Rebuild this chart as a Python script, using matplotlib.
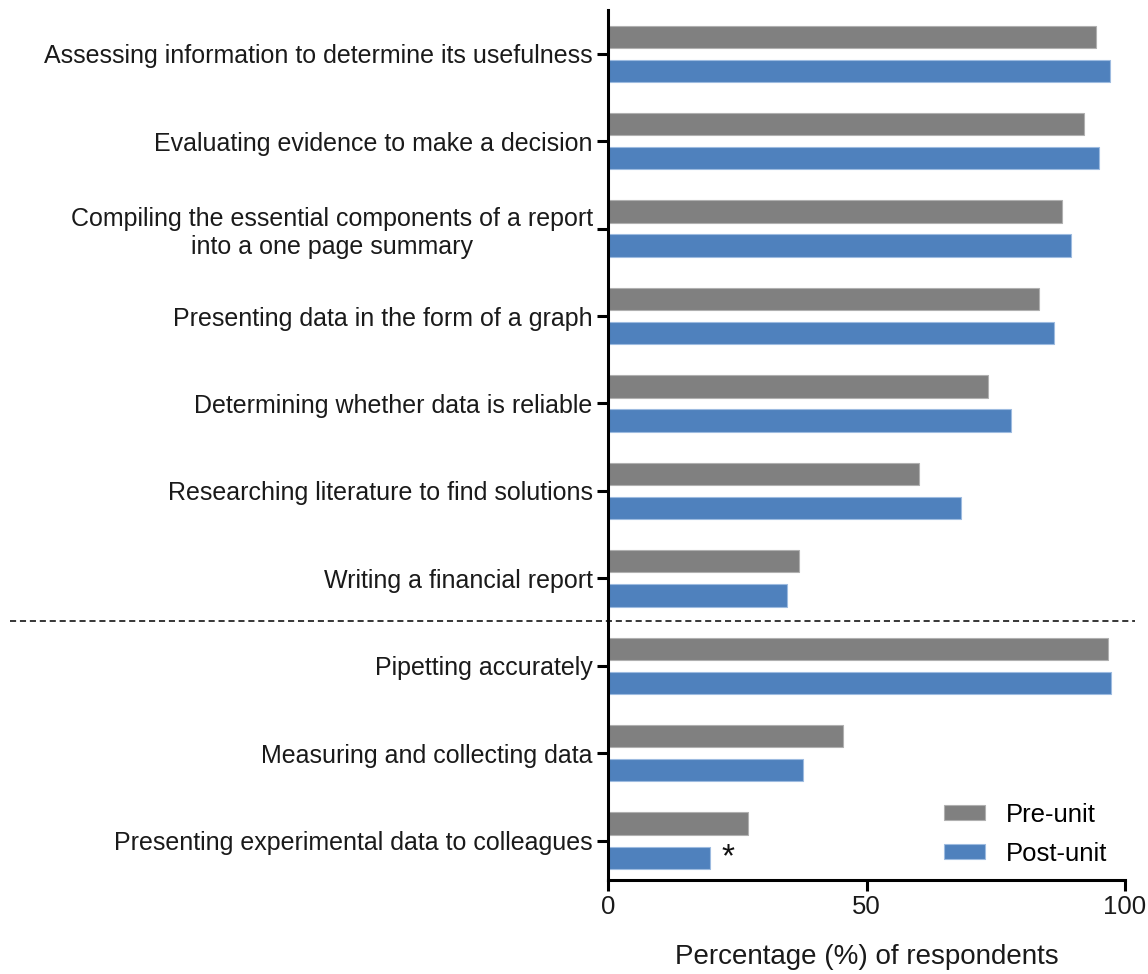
import numpy as np
import matplotlib.pyplot as plt
from matplotlib.lines import Line2D

# ---------------------------------------------------------
# data
# ---------------------------------------------------------
categories = [
    "Assessing information to determine its usefulness",
    "Evaluating evidence to make a decision",
    "Compiling the essential components of a report\ninto a one page summary",
    "Presenting data in the form of a graph",
    "Determining whether data is reliable",
    "Researching literature to find solutions",
    "Writing a financial report",
    "Pipetting accurately",
    "Measuring and collecting data",
    "Presenting experimental data to colleagues",
]
pre_unit = [94.3, 92.1, 87.9, 83.3, 73.5, 60.1, 36.9, 96.7, 45.5, 27.1]
post_unit = [97.1, 94.9, 89.5, 86.3, 77.9, 68.3, 34.7, 97.3, 37.8, 19.8]
xticks = [0, 50, 100]

# ---------------------------------------------------------
# plot
# ---------------------------------------------------------
plt.rcParams["font.family"] = ["Liberation Sans", "DejaVu Sans"]

fig = plt.figure(figsize=(11.48, 9.74), dpi=100)
ax = fig.add_axes([608 / 1148, 1 - 880 / 974, (1125 - 608) / 1148, (880 - 10) / 974])

y = np.arange(len(categories))
h = 0.255
ax.barh(y - 0.195, pre_unit, height=h, color="#808080", edgecolor="#b0b0b0",
        linewidth=0.8, label="Pre-unit")
ax.barh(y + 0.195, post_unit, height=h, color="#4f81bd", edgecolor="#9dbbe0",
        linewidth=0.8, label="Post-unit")

ax.set_ylim(len(categories) - 0.55, -0.5)
ax.set_xlim(0, 100)
ax.set_yticks(y)
ax.set_yticklabels(categories, fontsize=18, color="#1a1a1a", multialignment="center")
ax.set_xticks(xticks)
ax.set_xticklabels([str(t) for t in xticks], fontsize=18.5, color="#1a1a1a")
ax.set_xlabel("Percentage (%) of respondents", fontsize=20, color="#1a1a1a", labelpad=18)

for s in ["top", "right"]:
    ax.spines[s].set_visible(False)
for s in ["left", "bottom"]:
    ax.spines[s].set_linewidth(2.2)
ax.tick_params(axis="both", width=2.2, length=8, pad=3)

# dashed separator between the two groups
line = Line2D([10 / 1148, 1135 / 1148], [1 - 621 / 974, 1 - 621 / 974],
              transform=fig.transFigure, color="black", linestyle=(0, (4, 2.5)),
              linewidth=1.1)
fig.add_artist(line)

# significance marker
ax.text(post_unit[-1] + 2.2, y[-1] + 0.2, "*", fontsize=24, ha="left",
        va="center", color="#111111")

ax.legend(loc="lower right", frameon=False, fontsize=18.5, handlelength=1.6,
          handleheight=0.5, handletextpad=0.8, labelspacing=0.58,
          bbox_to_anchor=(1.01, -0.01))

fig.savefig("out.png", dpi=100)
